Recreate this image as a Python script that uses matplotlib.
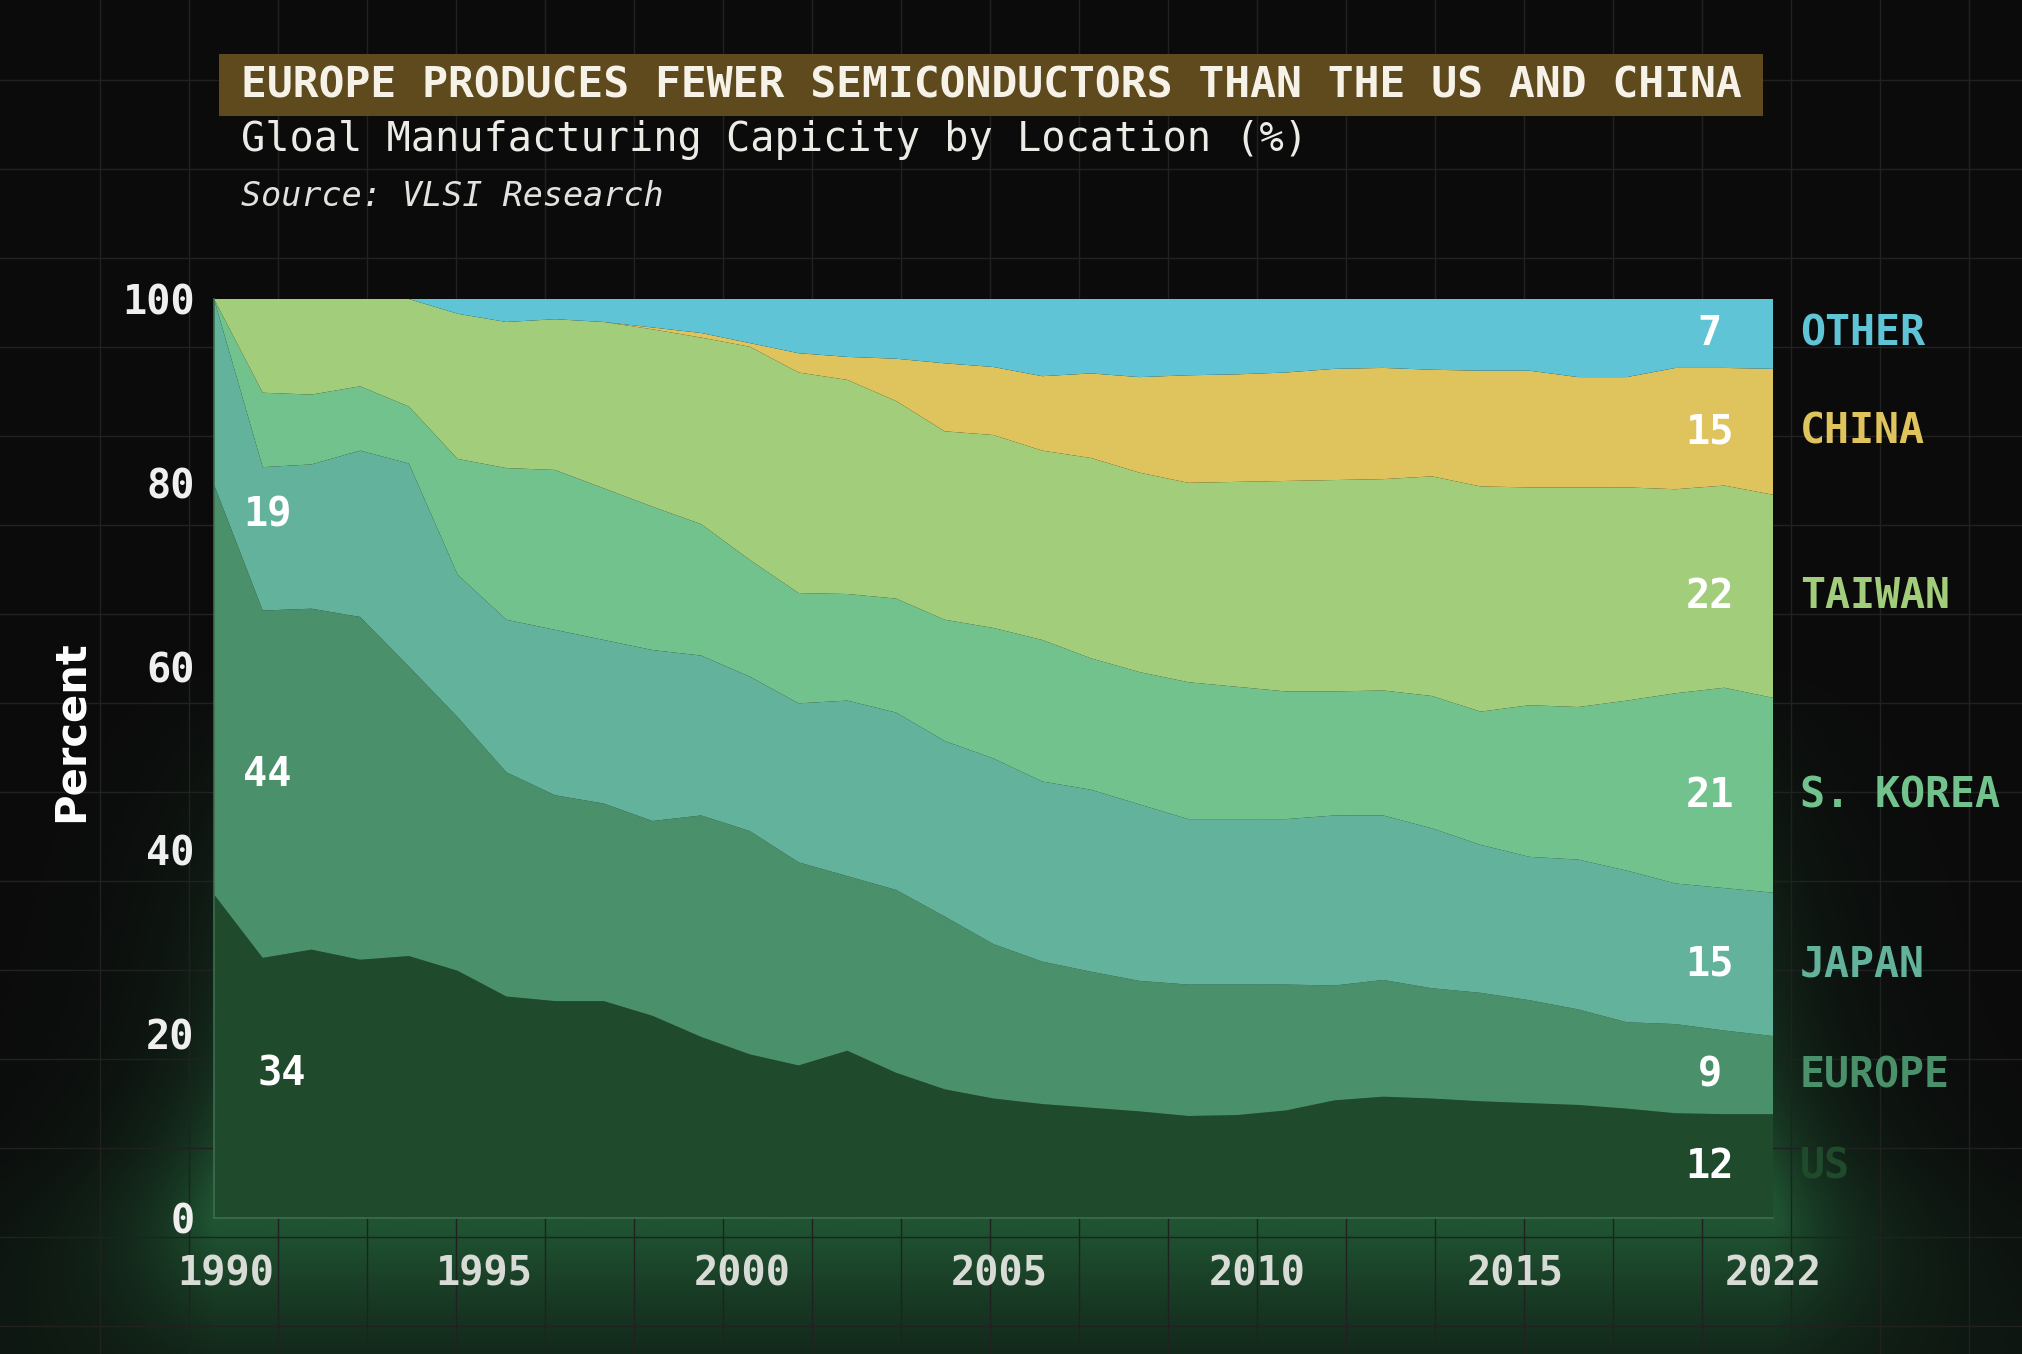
import numpy as np
import matplotlib.pyplot as plt
from matplotlib.patches import Rectangle

# share of global manufacturing capacity (%)
years = np.arange(1990, 2023)
us = [35.2, 28.3, 29.2, 28.1, 28.5, 26.9, 24.1, 23.6, 23.6, 22.0, 19.7, 17.8, 16.6, 18.2, 15.8, 14.0, 13.0,
      12.4, 12.0, 11.6, 11.1, 11.2, 11.7, 12.8, 13.2, 13.0, 12.7, 12.5, 12.3, 11.9, 11.4, 11.3, 11.3]
europe = [44.6, 37.8, 37.1, 37.3, 31.5, 27.6, 24.4, 22.4, 21.5, 21.2, 24.1, 24.3, 22.1, 19.0, 19.9, 18.8, 16.8,
          15.5, 14.8, 14.2, 14.3, 14.2, 13.7, 12.5, 12.7, 12.0, 11.8, 11.2, 10.4, 9.4, 9.7, 9.1, 8.5]
japan = [20.2, 15.6, 15.7, 18.1, 22.1, 15.5, 16.6, 18.0, 17.8, 18.6, 17.4, 16.8, 17.3, 19.1, 19.3, 19.1, 20.2,
         19.6, 19.8, 19.2, 18.0, 18.0, 18.0, 18.5, 17.9, 17.4, 16.1, 15.6, 16.3, 16.5, 15.3, 15.5, 15.6]
korea = [0.0, 8.1, 7.6, 7.0, 6.2, 12.6, 16.5, 17.4, 16.5, 15.6, 14.3, 12.7, 12.0, 11.6, 12.4, 13.2, 14.2,
         15.4, 14.3, 14.4, 14.9, 14.4, 13.9, 13.5, 13.6, 14.4, 14.5, 16.5, 16.6, 18.5, 20.7, 21.8, 21.2]
taiwan = [0.0, 10.2, 10.4, 9.5, 11.7, 15.8, 15.9, 16.4, 18.1, 19.3, 20.3, 23.2, 24.0, 23.3, 21.5, 20.5, 21.0,
          20.6, 21.8, 21.7, 21.7, 22.3, 22.9, 23.0, 23.0, 23.9, 24.5, 23.7, 23.9, 23.2, 22.2, 22.0, 22.1]
china = [0.0, 0.0, 0.0, 0.0, 0.0, 0.0, 0.0, 0.0, 0.0, 0.2, 0.5, 0.4, 2.1, 2.5, 4.6, 7.4, 7.4,
         8.1, 9.2, 10.4, 11.7, 11.7, 11.8, 12.1, 12.1, 11.6, 12.6, 12.7, 12.0, 12.0, 13.2, 12.8, 13.7]
other = [0.0, 0.0, 0.0, 0.0, 0.0, 1.6, 2.5, 2.2, 2.5, 3.1, 3.7, 4.8, 5.9, 6.3, 6.5, 7.0, 7.4,
         8.4, 8.1, 8.5, 8.3, 8.2, 8.0, 7.6, 7.5, 7.7, 7.8, 7.8, 8.5, 8.5, 7.5, 7.5, 7.6]

regions = ['US', 'EUROPE', 'JAPAN', 'S. KOREA', 'TAIWAN', 'CHINA', 'OTHER']
end_labels = ['12', '9', '15', '21', '22', '15', '7']
colors = ['#1f4a2b', '#4a916b', '#62b29c', '#72c28d', '#a2cd7a', '#dfc45e', '#5fc4d6']
name_colors = ['#1f4a2b', '#4a916b', '#62b29c', '#72c28d', '#a2cd7a', '#dfc45e', '#5fc4d6']

start_labels = ['34', '44', '19']
start_pos = [(1991.4, 15.7), (1991.1, 48.3), (1991.1, 76.5)]

xtick_labels = ['1990', '1995', '2000', '2005', '2010', '2015', '2022']

mono = 'DejaVu Sans Mono'
W, H = 2022, 1354
fig = plt.figure(figsize=(W / 100, H / 100), dpi=100)
fig.patch.set_facecolor('#0b0b0b')

# background: faint grid + green glow around the lower part of the plot
bg = fig.add_axes([0, 0, 1, 1], zorder=-5)
bg.set_xlim(0, W)
bg.set_ylim(H, 0)
bg.axis('off')
yy, xx = np.mgrid[0:H:4, 0:W:4]
ax0, ax1, ay0, ay1 = 214, 1773, 299, 1218
dx = np.maximum(np.maximum(ax0 - xx, xx - ax1), 0)
dy = np.maximum(np.maximum(ay0 - yy, yy - ay1), 0)
dist = np.hypot(dx, dy)
low = np.clip((yy - 650) / 550, 0, 1)
below = np.exp(-((yy - ay1 - 25) / 120.0) ** 2) * np.exp(-dx / 110.0)
alpha = 0.34 * np.exp(-dist / 70) * low + 0.28 * below + 0.08 * np.clip((yy - 1150) / 200, 0, 1)
glow = np.zeros(yy.shape + (4,))
glow[..., 0], glow[..., 1], glow[..., 2] = 0.18, 0.52, 0.30
glow[..., 3] = np.clip(alpha, 0, 0.6)
bg.imshow(glow, extent=[0, W, H, 0], aspect='auto', interpolation='bilinear')
for gx in np.arange(100, W, 89):
    bg.axvline(gx, color='#212121', lw=1)
for gy in np.arange(80, H, 89):
    bg.axhline(gy, color='#212121', lw=1)

ax = fig.add_axes([ax0 / W, 1 - ay1 / H, (ax1 - ax0) / W, (ay1 - ay0) / H])
ax.set_facecolor('none')
ax.stackplot(years, us, europe, japan, korea, taiwan, china, other, colors=colors, linewidth=0)
ax.set_xlim(1990, 2022)
ax.set_ylim(0, 100)

for s in ['top', 'right']:
    ax.spines[s].set_visible(False)
for s in ['left', 'bottom']:
    ax.spines[s].set_color('#3d6e4e')
    ax.spines[s].set_linewidth(1.2)

ax.set_yticks([0, 20, 40, 60, 80, 100])
ax.set_xticks(np.linspace(1990.25, 2022, 7))
ax.set_xticklabels(xtick_labels)
ax.tick_params(length=0, labelsize=29)
ax.tick_params(axis='y', pad=14, colors='#efefef')
ax.tick_params(axis='x', pad=26, colors='#d9dcd6')
for lab in ax.get_xticklabels() + ax.get_yticklabels():
    lab.set_family(mono)
    lab.set_fontweight('bold')
ax.set_ylabel('Percent', color='white', fontsize=30, fontweight='bold', va='center')
ax.yaxis.set_label_coords(-0.092, 0.53)

# end-of-series values and names
last = np.array([s[-1] for s in [us, europe, japan, korea, taiwan, china, other]])
mids = np.cumsum(last) - last / 2
for m, txt, name, c in zip(mids, end_labels, regions, name_colors):
    ax.text(2020.7, m, txt, color='white', fontsize=29, fontweight='bold', family=mono,
            ha='center', va='center')
    ax.text(2022.55, m, name, color=c, fontsize=30, fontweight='bold', family=mono,
            ha='left', va='center', clip_on=False)

for (x, y), txt in zip(start_pos, start_labels):
    ax.text(x, y, txt, color='white', fontsize=29, fontweight='bold', family=mono,
            ha='center', va='center')

# title block
fig.patches.append(Rectangle((219 / W, 1 - 116 / H), (1763 - 219) / W, 62 / H,
                             transform=fig.transFigure, facecolor='#5f4a1d', edgecolor='none'))
fig.text(241 / W, 1 - 85 / H, 'EUROPE PRODUCES FEWER SEMICONDUCTORS THAN THE US AND CHINA',
         color='#f7f2e8', fontsize=31, fontweight='bold', family=mono, va='center')
fig.text(241 / W, 1 - 140 / H, 'Gloal Manufacturing Capicity by Location (%)',
         color='#ecebe6', fontsize=29, family=mono, va='center')
fig.text(241 / W, 1 - 196 / H, 'Source: VLSI Research',
         color='#e2e2de', fontsize=24, family=mono, style='italic', va='center')

fig.savefig('out.png', dpi=100, facecolor=fig.get_facecolor())
